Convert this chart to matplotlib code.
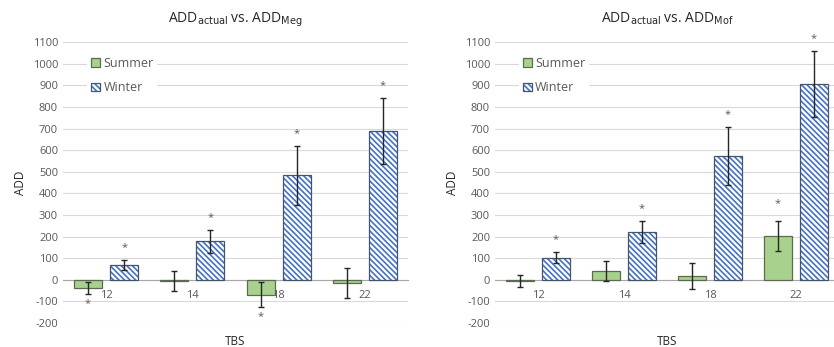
import matplotlib.pyplot as plt
import numpy as np

plt.rcParams['font.family'] = ['Open Sans', 'DejaVu Sans']
plt.rcParams['hatch.linewidth'] = 1.2
plt.rcParams['axes.unicode_minus'] = False

tbs = ['12', '14', '18', '22']

# ADD actual vs ADD Meg
meg_summer = [-38, -5, -70, -15]
meg_summer_err = [26, 46, 58, 70]
meg_winter = [68, 178, 484, 690]
meg_winter_err = [23, 52, 136, 153]
meg_summer_star = [True, False, True, False]
meg_winter_star = [True, True, True, True]

# ADD actual vs ADD Mof
mof_summer = [-4, 40, 18, 203]
mof_summer_err = [28, 46, 60, 71]
mof_winter = [102, 223, 573, 908]
mof_winter_err = [25, 51, 135, 153]
mof_summer_star = [False, False, False, True]
mof_winter_star = [True, True, True, True]

grey = '#595959'

def panel(ax, title, summer, s_err, winter, w_err, s_star, w_star):
	x = np.arange(len(tbs))
	w = 0.325
	off = 0.2095
	b1 = ax.bar(x - off, summer, w, color='#A9D18E', edgecolor='#5B6B50', linewidth=0.9,
		zorder=3)
	# hatch layer (hatch takes the edge colour) then a grey-blue outline
	b2 = ax.bar(x + off, winter, w, color='white', edgecolor='#4472C4', linewidth=0,
		hatch='\\' * 6, zorder=3)
	b3 = ax.bar(x + off, winter, w, fill=False, edgecolor='#44546A', linewidth=0.9, zorder=3)
	ax.errorbar(x - off, summer, yerr=s_err, fmt='none', ecolor='#262626',
		elinewidth=1, capsize=2.5, zorder=4)
	ax.errorbar(x + off, winter, yerr=w_err, fmt='none', ecolor='#262626',
		elinewidth=1, capsize=2.5, zorder=4)
	for i in range(len(tbs)):
		if s_star[i]:
			if summer[i] < 0:
				ax.annotate('*', (x[i] - off, summer[i] - s_err[i]), xytext=(0, -3),
					textcoords='offset points', ha='center', va='top', fontsize=8, color=grey)
			else:
				ax.annotate('*', (x[i] - off, summer[i] + s_err[i]), xytext=(0, 8),
					textcoords='offset points', ha='center', va='bottom', fontsize=8, color=grey)
		if w_star[i]:
			ax.annotate('*', (x[i] + off, winter[i] + w_err[i]), xytext=(0, 5),
				textcoords='offset points', ha='center', va='bottom', fontsize=8,
				color=grey, annotation_clip=False)
	ax.set_xlim(-0.5, len(tbs) - 0.5)
	ax.set_ylim(-200, 1100)
	ax.set_yticks(np.arange(-200, 1101, 100))
	ax.set_xticks(x)
	ax.set_xticklabels(tbs)
	ax.grid(axis='y', color='#D9D9D9', linewidth=0.8, zorder=0)
	ax.set_axisbelow(True)
	for s in ['top', 'right', 'left']:
		ax.spines[s].set_visible(False)
	ax.spines['bottom'].set_position(('data', 0))
	ax.spines['bottom'].set_color('#A6A6A6')
	ax.spines['bottom'].set_zorder(2)
	ax.tick_params(axis='both', length=0, labelsize=8, labelcolor=grey)
	ax.tick_params(axis='x', pad=7)
	ax.set_ylabel('ADD', fontsize=8.5, color='#262626')
	ax.set_xlabel('TBS', fontsize=8.5, color='#262626')
	ax.xaxis.set_label_coords(0.5, -0.042)
	ax.set_title(title, fontsize=10, color='#262626', pad=14)
	leg = ax.legend([b1, (b2, b3)], ['Summer', 'Winter'], loc='upper left',
		bbox_to_anchor=(0.07, 0.96), fontsize=9,
		frameon=True, edgecolor='none', facecolor='white', framealpha=1,
		handlelength=0.7, handleheight=0.7, handletextpad=0.3, labelspacing=0.9,
		borderpad=0.3, borderaxespad=0)
	for t in leg.get_texts():
		t.set_color(grey)

fig = plt.figure(figsize=(8.34, 3.47), dpi=100)
ax1 = fig.add_axes([0.0755, 0.0692, 0.4137, 0.809])
ax2 = fig.add_axes([0.5935, 0.0692, 0.4125, 0.809])

panel(ax1, r'ADD$_{\mathrm{actual}}$ vs. ADD$_{\mathrm{Meg}}$', meg_summer, meg_summer_err,
	meg_winter, meg_winter_err, meg_summer_star, meg_winter_star)
panel(ax2, r'ADD$_{\mathrm{actual}}$ vs. ADD$_{\mathrm{Mof}}$', mof_summer, mof_summer_err,
	mof_winter, mof_winter_err, mof_summer_star, mof_winter_star)

fig.savefig('out.png', dpi=100)
